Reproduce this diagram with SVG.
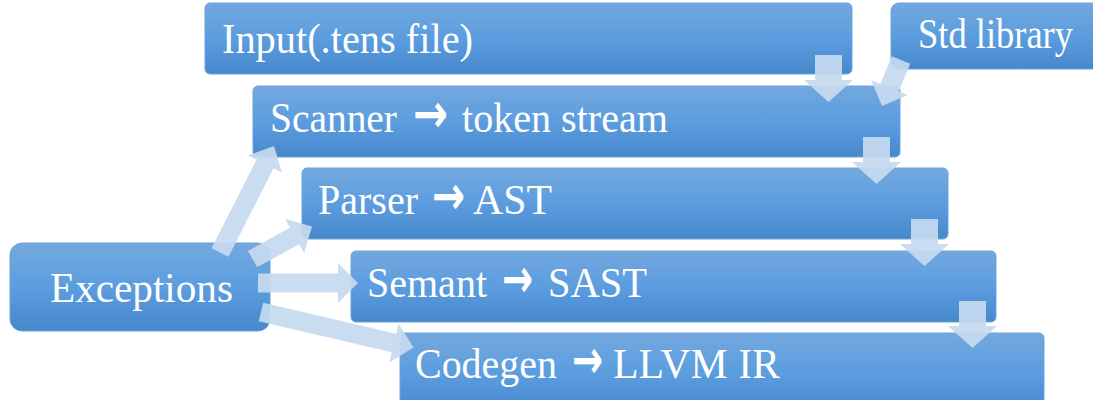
<svg xmlns="http://www.w3.org/2000/svg" width="1093" height="400" viewBox="0 0 1093 400">
<defs>
<linearGradient id="g" x1="0" y1="0" x2="0" y2="1">
<stop offset="0" stop-color="#74a8de"/>
<stop offset="0.5" stop-color="#5b9ddf"/>
<stop offset="1" stop-color="#4688cb"/>
</linearGradient>
<style>
.box{fill:url(#g);stroke:#6fa3d9;stroke-width:1}
.t{fill:#ffffff;font-family:"Liberation Serif","Times New Roman",serif;font-size:43px}
.a{font-family:"DejaVu Sans",sans-serif;font-weight:bold;font-size:54px}
.ar{fill:#c6daef;fill-opacity:0.92}
</style>
</defs>
<rect width="1093" height="400" fill="#ffffff"/>
<g id="input"><rect class="box" x="205" y="3" width="647" height="71" rx="5"/><text class="t" x="222" y="53" font-size="44" textLength="251" lengthAdjust="spacingAndGlyphs">Input(.tens file)</text></g>
<g id="stdlib"><rect class="box" x="891" y="3" width="220" height="66" rx="8"/><text class="t" x="918" y="48" font-size="37" textLength="155" lengthAdjust="spacingAndGlyphs">Std library</text></g>
<g id="scanner"><rect class="box" x="253" y="86" width="647" height="71" rx="5"/><text class="t" y="132"><tspan x="270" textLength="127" lengthAdjust="spacingAndGlyphs">Scanner</tspan> <tspan class="a" x="413" textLength="35" lengthAdjust="spacingAndGlyphs">→</tspan> <tspan x="462" textLength="206" lengthAdjust="spacingAndGlyphs">token stream</tspan></text></g>
<g id="parser"><rect class="box" x="302" y="168" width="646" height="71" rx="5"/><text class="t" y="214"><tspan x="318" textLength="100" lengthAdjust="spacingAndGlyphs">Parser</tspan> <tspan class="a" x="432" textLength="33" lengthAdjust="spacingAndGlyphs">→</tspan> <tspan x="473" textLength="79" lengthAdjust="spacingAndGlyphs">AST</tspan></text></g>
<g id="semant"><rect class="box" x="351" y="251" width="645" height="71" rx="5"/><text class="t" y="297"><tspan x="367" textLength="120" lengthAdjust="spacingAndGlyphs">Semant</tspan> <tspan class="a" x="502" textLength="31" lengthAdjust="spacingAndGlyphs">→</tspan> <tspan x="548" textLength="99" lengthAdjust="spacingAndGlyphs">SAST</tspan></text></g>
<g id="codegen"><rect class="box" x="400" y="333" width="644" height="80" rx="5"/><text class="t" y="378"><tspan x="415" textLength="142" lengthAdjust="spacingAndGlyphs">Codegen</tspan> <tspan class="a" x="572" textLength="31" lengthAdjust="spacingAndGlyphs">→</tspan> <tspan x="613" textLength="167" lengthAdjust="spacingAndGlyphs">LLVM IR</tspan></text></g>
<g id="exceptions"><rect class="box" x="10" y="243" width="260" height="88" rx="12"/><text class="t" x="50" y="302" font-size="43" textLength="183" lengthAdjust="spacingAndGlyphs">Exceptions</text></g>
<g id="connectors">
<polygon class="ar" points="815,55 842,55 842,80 853,80 828.5,102 804,80 815,80"/>
<polygon class="ar" points="863,137 890,137 890,162 901,162 876.5,184 852,162 863,162"/>
<polygon class="ar" points="911,219 938,219 938,244 949,244 924.5,266 900,244 911,244"/>
<polygon class="ar" points="959,301 986,301 986,326 997,326 972.5,348 948,326 959,326"/>
<polygon class="ar" points="891.8,56.2 910.2,63.8 898.7,91.3 907.9,95.1 882,106 871.1,79.9 880.3,83.7"/>
<polygon class="ar" points="211.5,248.2 228.5,256.8 273.5,168.3 282,172.5 274,146 248,155.5 256.5,159.8"/>
<polygon class="ar" points="247.9,250.9 257.1,267.1 299.3,244.3 304.1,253.2 312,226.4 285,218.8 289.8,227.7"/>
<polygon class="ar" points="258,273.5 338,273.5 338,263 358,283 338,303 338,292.5 258,292.5"/>
<polygon class="ar" points="263.2,302.7 258.8,321.3 391.8,352.3 389.5,362.5 413.5,347.5 398.5,323.5 396.2,333.8"/>
</g>
</svg>
